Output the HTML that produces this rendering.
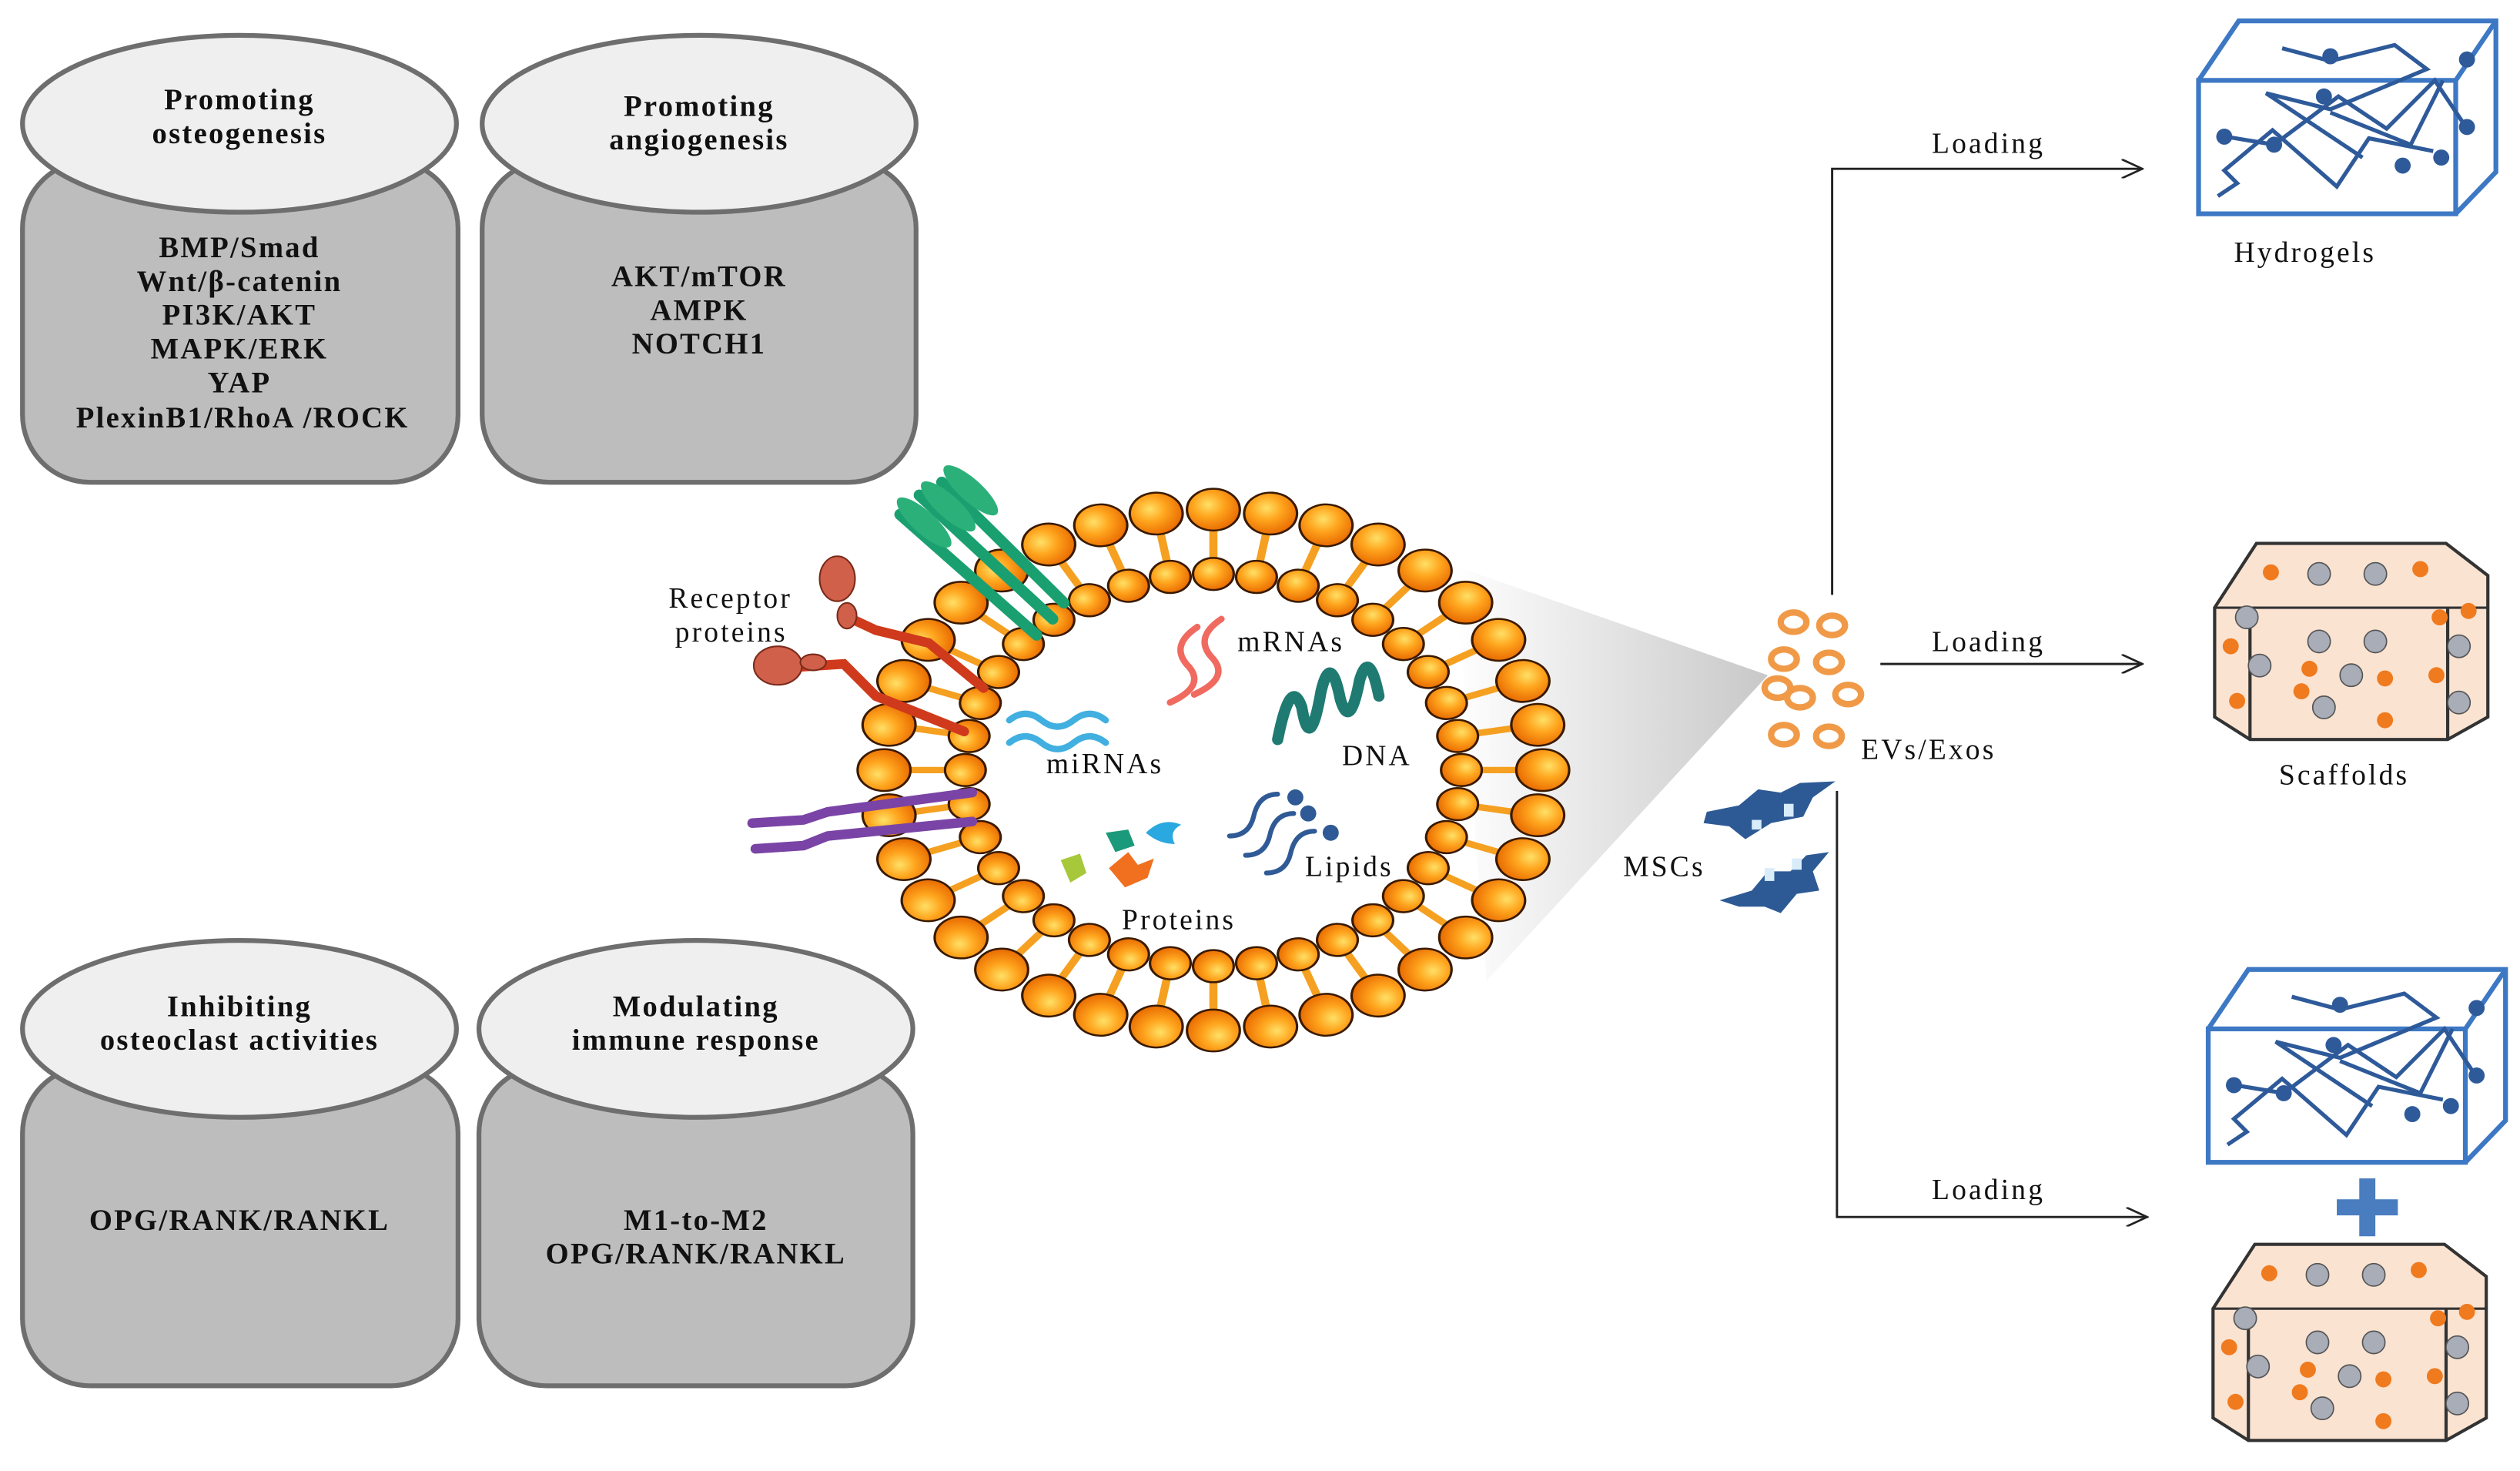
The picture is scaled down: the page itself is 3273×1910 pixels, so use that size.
<!DOCTYPE html>
<html><head><meta charset="utf-8">
<style>
html,body{margin:0;padding:0;background:#fff;}
svg{display:block;}
text{font-family:"Liberation Serif",serif;fill:#111;}
.b{font-weight:bold;font-size:18.5px;letter-spacing:1.1px;}
.t{font-size:18px;letter-spacing:1.5px;}
</style></head>
<body>
<svg width="3273" height="1910" viewBox="0 0 1568 915" preserveAspectRatio="none" xmlns="http://www.w3.org/2000/svg" xmlns:xlink="http://www.w3.org/1999/xlink">
<defs>
<radialGradient id="og" cx="0.4" cy="0.38" r="0.65">
<stop offset="0" stop-color="#ffe066"/><stop offset="0.45" stop-color="#ffa51e"/><stop offset="1" stop-color="#e86a00"/>
</radialGradient>
<linearGradient id="cone" x1="0" x2="1" y1="0" y2="0">
<stop offset="0" stop-color="#fff"/><stop offset="1" stop-color="#c8c8c8"/>
</linearGradient>
<marker id="ar" markerWidth="14" markerHeight="12" refX="13" refY="6" orient="auto" markerUnits="userSpaceOnUse">
<path d="M0,0 L13,6 L0,12" fill="none" stroke="#222" stroke-width="1.3"/>
</marker>
<g id="lip">
<line x1="0" y1="-162" x2="0" y2="-122" stroke="#f5a020" stroke-width="4"/>
<circle cx="0" cy="-162" r="13" fill="url(#og)" stroke="#3a1a00" stroke-width="1.2"/>
<circle cx="0" cy="-122" r="10" fill="url(#og)" stroke="#3a1a00" stroke-width="1.2"/>
</g>
</defs>

<!-- Left boxes -->
<g stroke="#6e6e6e" stroke-width="3">
<rect x="14" y="100" width="271" height="200" rx="42" fill="#bdbdbd"/>
<ellipse cx="149" cy="77" rx="135" ry="55" fill="#efefef"/>
<rect x="300" y="100" width="270" height="200" rx="42" fill="#bdbdbd"/>
<ellipse cx="435" cy="77" rx="135" ry="55" fill="#efefef"/>
<rect x="14" y="663" width="271" height="199" rx="42" fill="#bdbdbd"/>
<ellipse cx="149" cy="640" rx="135" ry="55" fill="#efefef"/>
<rect x="298" y="663" width="270" height="199" rx="42" fill="#bdbdbd"/>
<ellipse cx="433" cy="640" rx="135" ry="55" fill="#efefef"/>
</g>
<g text-anchor="middle">
<text x="149" y="68" class="b">Promoting</text>
<text x="149" y="89" class="b">osteogenesis</text>
<text x="149" y="160" class="b">BMP/Smad</text>
<text x="149" y="181" class="b">Wnt/β-catenin</text>
<text x="149" y="202" class="b">PI3K/AKT</text>
<text x="149" y="223" class="b">MAPK/ERK</text>
<text x="149" y="244" class="b">YAP</text>
<text x="151" y="266" class="b">PlexinB1/RhoA /ROCK</text>
<text x="435" y="72" class="b">Promoting</text>
<text x="435" y="93" class="b">angiogenesis</text>
<text x="435" y="178" class="b">AKT/mTOR</text>
<text x="435" y="199" class="b">AMPK</text>
<text x="435" y="220" class="b">NOTCH1</text>
<text x="149" y="632" class="b">Inhibiting</text>
<text x="149" y="653" class="b">osteoclast activities</text>
<text x="149" y="765" class="b">OPG/RANK/RANKL</text>
<text x="433" y="632" class="b">Modulating</text>
<text x="433" y="653" class="b">immune response</text>
<text x="433" y="765" class="b">M1-to-M2</text>
<text x="433" y="786" class="b">OPG/RANK/RANKL</text>
</g>

<!-- cone -->
<polygon points="905,352 1100,420 925,610" fill="url(#cone)"/>

<!-- vesicle -->
<g transform="translate(755,479) scale(1.265,1)">
<use xlink:href="#lip" href="#lip" transform="rotate(0)"/>
<use xlink:href="#lip" href="#lip" transform="rotate(10)"/>
<use xlink:href="#lip" href="#lip" transform="rotate(20)"/>
<use xlink:href="#lip" href="#lip" transform="rotate(30)"/>
<use xlink:href="#lip" href="#lip" transform="rotate(40)"/>
<use xlink:href="#lip" href="#lip" transform="rotate(50)"/>
<use xlink:href="#lip" href="#lip" transform="rotate(60)"/>
<use xlink:href="#lip" href="#lip" transform="rotate(70)"/>
<use xlink:href="#lip" href="#lip" transform="rotate(80)"/>
<use xlink:href="#lip" href="#lip" transform="rotate(90)"/>
<use xlink:href="#lip" href="#lip" transform="rotate(100)"/>
<use xlink:href="#lip" href="#lip" transform="rotate(110)"/>
<use xlink:href="#lip" href="#lip" transform="rotate(120)"/>
<use xlink:href="#lip" href="#lip" transform="rotate(130)"/>
<use xlink:href="#lip" href="#lip" transform="rotate(140)"/>
<use xlink:href="#lip" href="#lip" transform="rotate(150)"/>
<use xlink:href="#lip" href="#lip" transform="rotate(160)"/>
<use xlink:href="#lip" href="#lip" transform="rotate(170)"/>
<use xlink:href="#lip" href="#lip" transform="rotate(180)"/>
<use xlink:href="#lip" href="#lip" transform="rotate(190)"/>
<use xlink:href="#lip" href="#lip" transform="rotate(200)"/>
<use xlink:href="#lip" href="#lip" transform="rotate(210)"/>
<use xlink:href="#lip" href="#lip" transform="rotate(220)"/>
<use xlink:href="#lip" href="#lip" transform="rotate(230)"/>
<use xlink:href="#lip" href="#lip" transform="rotate(240)"/>
<use xlink:href="#lip" href="#lip" transform="rotate(250)"/>
<use xlink:href="#lip" href="#lip" transform="rotate(260)"/>
<use xlink:href="#lip" href="#lip" transform="rotate(270)"/>
<use xlink:href="#lip" href="#lip" transform="rotate(280)"/>
<use xlink:href="#lip" href="#lip" transform="rotate(290)"/>
<use xlink:href="#lip" href="#lip" transform="rotate(300)"/>
<use xlink:href="#lip" href="#lip" transform="rotate(310)"/>
<use xlink:href="#lip" href="#lip" transform="rotate(320)"/>
<use xlink:href="#lip" href="#lip" transform="rotate(330)"/>
<use xlink:href="#lip" href="#lip" transform="rotate(340)"/>
<use xlink:href="#lip" href="#lip" transform="rotate(350)"/>
</g>

<!-- proteins attached -->
<g fill="none" stroke-linecap="round">
<g stroke="#1aa070" stroke-width="7">
<line x1="560" y1="320" x2="645" y2="395"/>
<line x1="572" y1="308" x2="655" y2="385"/>
<line x1="586" y1="300" x2="662" y2="375"/>
</g>
<g fill="#2cb07a" stroke="none">
<ellipse cx="575" cy="325" rx="22" ry="7" transform="rotate(42 575 325)"/>
<ellipse cx="590" cy="315" rx="22" ry="7" transform="rotate(42 590 315)"/>
<ellipse cx="604" cy="305" rx="22" ry="7" transform="rotate(42 604 305)"/>
</g>
<g stroke="#d03a1c" stroke-width="6">
<polyline points="530,385 545,392 578,400 612,428"/>
<polyline points="495,415 525,413 545,433 600,455"/>
</g>
<g fill="#d0604a" stroke="#7a2a1a" stroke-width="1">
<ellipse cx="521" cy="360" rx="11" ry="14"/>
<ellipse cx="527" cy="383" rx="6" ry="8"/>
<ellipse cx="484" cy="414" rx="15" ry="12"/>
<ellipse cx="506" cy="412" rx="8" ry="5"/>
</g>
<g stroke="#7a44a6" stroke-width="6">
<polyline points="468,512 500,510 515,505 605,493"/>
<polyline points="470,528 500,526 515,520 605,511"/>
</g>
</g>

<!-- cargo -->
<g fill="none" stroke-linecap="round">
<path d="M628,448 q10,-8 20,0 t20,0 t20,0" stroke="#41b0e0" stroke-width="4"/>
<path d="M628,462 q10,-8 20,0 t20,0 t20,0" stroke="#41b0e0" stroke-width="4"/>
<path d="M745,390 q-18,12 -5,25 q10,12 -12,22" stroke="#f06a60" stroke-width="4"/>
<path d="M760,385 q-18,12 -5,25 q10,12 -12,22" stroke="#f06a60" stroke-width="4"/>
<path d="M795,460 q8,-40 15,-20 q5,30 12,-10 q6,-25 12,5 q6,20 12,-12 q6,-20 12,10" stroke="#1f7a72" stroke-width="7"/>
<path d="M765,520 q12,0 15,-12 q3,-14 15,-14" stroke="#2f5a95" stroke-width="3"/>
<path d="M775,532 q12,0 15,-12 q3,-14 15,-14" stroke="#2f5a95" stroke-width="3"/>
<path d="M788,543 q12,0 15,-12 q3,-14 15,-14" stroke="#2f5a95" stroke-width="3"/>
</g>
<g fill="#2f5a95"><circle cx="806" cy="496" r="5"/><circle cx="814" cy="506" r="5"/><circle cx="828" cy="518" r="5"/></g>
<path d="M660,535 l12,-4 l4,12 l-10,6 z" fill="#a6c83a"/>
<path d="M688,518 l14,-2 l4,10 l-12,4 z" fill="#1a9a7a"/>
<path d="M690,540 l12,-10 l6,8 l10,-4 l-4,12 l-14,6 z" fill="#f07020"/>
<path d="M713,518 q10,-10 22,-5 q-8,4 -4,12 q-10,0 -18,-7z" fill="#2aa8e0"/>

<g>
<text x="416" y="378" class="t">Receptor</text>
<text x="420" y="399" class="t">proteins</text>
<text x="770" y="405" class="t">mRNAs</text>
<text x="651" y="481" class="t">miRNAs</text>
<text x="835" y="476" class="t">DNA</text>
<text x="812" y="545" class="t">Lipids</text>
<text x="698" y="578" class="t">Proteins</text>
<text x="1010" y="545" class="t">MSCs</text>
<text x="1158" y="472" class="t">EVs/Exos</text>
<text x="1202" y="95" class="t">Loading</text>
<text x="1202" y="405" class="t">Loading</text>
<text x="1202" y="746" class="t">Loading</text>
<text x="1390" y="163" class="t">Hydrogels</text>
<text x="1418" y="488" class="t">Scaffolds</text>
</g>

<!-- EVs rings -->
<g fill="none" stroke="#f09a48" stroke-width="4">
<ellipse cx="1116" cy="387" rx="8" ry="6"/><ellipse cx="1140" cy="389" rx="8" ry="6"/>
<ellipse cx="1110" cy="410" rx="8" ry="6"/><ellipse cx="1138" cy="412" rx="8" ry="6"/>
<ellipse cx="1106" cy="428" rx="8" ry="6"/><ellipse cx="1120" cy="434" rx="8" ry="6"/><ellipse cx="1150" cy="432" rx="8" ry="6"/>
<ellipse cx="1110" cy="457" rx="8" ry="6"/><ellipse cx="1138" cy="458" rx="8" ry="6"/>
</g>
<!-- MSCs -->
<g fill="#2d5a95">
<path d="M1062,505 l20,-4 l12,-10 l14,2 l12,-6 l22,-1 l-14,10 l-6,12 l-20,4 l-16,10 l-10,-8 l-16,-2z"/>
<path d="M1070,560 l20,-6 l10,-12 l14,0 l10,-10 l14,-2 l-10,12 l4,12 l-14,2 l-10,12 l-10,-4 l-16,0z"/>
</g>
<g fill="#d8ecfa"><rect x="1090" y="510" width="6" height="6"/><rect x="1110" y="500" width="6" height="8"/><rect x="1098" y="540" width="6" height="8"/><rect x="1115" y="534" width="6" height="7"/></g>

<!-- connectors -->
<g stroke="#222" stroke-width="1.4" fill="none">
<polyline points="1140,370 1140,105 1333,105" marker-end="url(#ar)"/>
<line x1="1170" y1="413" x2="1333" y2="413" marker-end="url(#ar)"/>
<polyline points="1143,492 1143,757 1336,757" marker-end="url(#ar)"/>
</g>

<!-- hydrogel cubes -->
<g id="hg">
<g fill="none" stroke="#3d78c4" stroke-width="3">
<rect x="1368" y="50" width="160" height="83"/>
<polyline points="1368,50 1393,13 1553,13 1553,107 1528,133"/>
<line x1="1528" y1="50" x2="1553" y2="13"/>
</g>
<g fill="none" stroke="#2e5a9a" stroke-width="2.5">
<path d="M1385,85 l30,5 l40,-30 l30,20 l30,-30 l20,30"/>
<path d="M1380,122 l12,-8 l-8,-8 l30,-25 l40,35 l20,-30 l40,8"/>
<path d="M1420,30 l30,8 l40,-10 l20,15 l-60,25 l-40,-10 l60,40"/>
<path d="M1450,70 l50,20 l20,-40"/>
</g>
<g fill="#2e5a9a"><circle cx="1384" cy="85" r="5"/><circle cx="1450" cy="35" r="5"/><circle cx="1446" cy="60" r="5"/><circle cx="1415" cy="90" r="5"/><circle cx="1495" cy="103" r="5"/><circle cx="1519" cy="98" r="5"/><circle cx="1535" cy="79" r="5"/><circle cx="1535" cy="37" r="5"/></g>
</g>
<use xlink:href="#hg" href="#hg" transform="translate(6,590)"/>
<!-- plus -->
<g fill="#4a7cc0"><rect x="1454" y="746" width="38" height="10"/><rect x="1468" y="733" width="10" height="36"/></g>

<!-- scaffolds -->
<g id="sc">
<polygon points="1378,378 1404,338 1522,338 1548,358 1548,446 1523,460 1400,460 1378,446" fill="#fbe3d2" stroke="#333" stroke-width="2"/>
<line x1="1378" y1="378" x2="1548" y2="378" stroke="#333" stroke-width="1.5"/>
<line x1="1400" y1="378" x2="1400" y2="460" stroke="#333" stroke-width="2"/>
<line x1="1523" y1="378" x2="1523" y2="460" stroke="#333" stroke-width="2"/>
<g fill="#a8adb8" stroke="#555" stroke-width="0.8">
<circle cx="1443" cy="357" r="7"/><circle cx="1478" cy="357" r="7"/><circle cx="1398" cy="384" r="7"/><circle cx="1406" cy="414" r="7"/><circle cx="1443" cy="399" r="7"/><circle cx="1478" cy="399" r="7"/><circle cx="1463" cy="420" r="7"/><circle cx="1446" cy="440" r="7"/><circle cx="1530" cy="402" r="7"/><circle cx="1530" cy="437" r="7"/>
</g>
<g fill="#f07a1e"><circle cx="1413" cy="356" r="5"/><circle cx="1506" cy="354" r="5"/><circle cx="1388" cy="402" r="5"/><circle cx="1392" cy="436" r="5"/><circle cx="1437" cy="416" r="5"/><circle cx="1432" cy="430" r="5"/><circle cx="1484" cy="422" r="5"/><circle cx="1484" cy="448" r="5"/><circle cx="1518" cy="384" r="5"/><circle cx="1536" cy="380" r="5"/><circle cx="1516" cy="420" r="5"/></g>
</g>
<use xlink:href="#sc" href="#sc" transform="translate(-1,436)"/>
</svg>
</body></html>
